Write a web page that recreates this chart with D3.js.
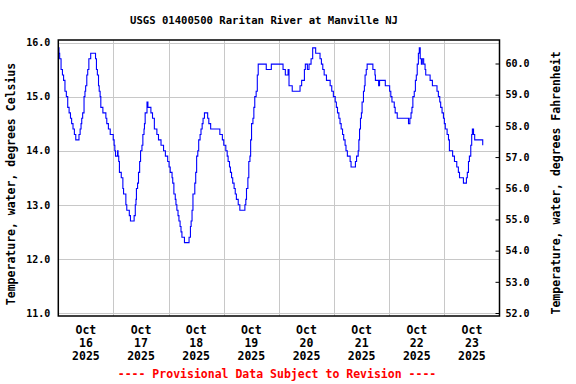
<!DOCTYPE html>
<html lang="en">
<head>
<meta charset="UTF-8">
<title>USGS 01400500 Raritan River at Manville NJ</title>
<script src="https://d3js.org/d3.v7.min.js"></script>
<style>
    body { margin: 0; background: #fff; }
    svg text { font-family: "DejaVu Sans Mono", "Liberation Mono", monospace; font-weight: bold; fill: #000; }
</style>
</head>
<body>
<div id="chart"></div>
<script>
// hours since 2025-10-16 00:00, water temperature (deg C)
const hours = [0.0, 0.3, 0.6, 1.2, 1.8, 2.3, 2.9, 3.5, 4.1, 4.7, 5.3, 5.8, 6.4, 7.0, 7.6, 9.0, 9.5, 9.9, 10.2, 10.6,
    11.2, 11.6, 11.9, 12.4, 12.8, 13.3, 14.1, 16.2, 16.6, 17.0, 17.5, 17.8, 18.2, 18.5, 19.4, 20.7, 21.1, 21.8, 22.6, 23.9,
    24.3, 24.6, 24.9, 25.8, 26.0, 26.3, 26.6, 27.4, 28.1, 28.4, 29.4, 29.8, 30.9, 31.4, 33.0, 33.5, 33.8, 34.0, 34.5, 34.9,
    35.4, 35.8, 36.4, 36.8, 37.3, 37.5, 37.8, 38.6, 39.0, 40.3, 41.0, 41.8, 42.9, 43.6, 44.7, 45.8, 46.6, 47.6, 48.2, 48.7,
    49.5, 49.8, 50.3, 50.9, 51.2, 51.6, 52.1, 52.5, 53.0, 53.4, 53.8, 54.9, 56.9, 57.5, 57.8, 58.2, 58.6, 59.4, 59.8, 60.2,
    60.7, 61.1, 61.7, 62.1, 62.6, 63.0, 63.6, 65.0, 65.5, 66.3, 70.3, 71.4, 72.0, 72.9, 73.5, 73.9, 74.5, 74.9, 75.4, 75.9,
    76.5, 77.0, 77.5, 78.3, 79.0, 81.2, 81.6, 81.9, 82.5, 82.9, 83.4, 83.7, 84.1, 84.7, 85.1, 85.5, 86.1, 86.6, 87.0, 90.5,
    92.7, 97.8, 98.8, 100.0, 100.4, 101.8, 105.2, 105.9, 107.1, 107.5, 108.4, 109.1, 110.0, 110.7, 112.0, 113.9, 114.5, 115.1, 115.7, 116.7,
    118.3, 119.0, 119.7, 120.5, 121.0, 121.5, 122.1, 122.6, 123.1, 123.7, 124.2, 124.8, 125.2, 125.8, 127.0, 127.4, 129.3, 129.8, 130.5, 130.8,
    131.1, 131.5, 131.9, 132.2, 132.8, 133.2, 133.5, 134.0, 134.4, 136.9, 137.8, 138.0, 139.4, 139.8, 142.3, 144.2, 144.7, 145.2, 146.2, 146.6,
    147.5, 152.4, 153.0, 153.5, 153.9, 154.3, 154.9, 155.4, 155.8, 156.2, 156.7, 157.1, 157.5, 158.0, 158.4, 159.0, 159.6, 159.9, 161.8, 162.8,
    164.8, 165.4, 166.0, 166.4, 167.0, 167.6, 168.0, 168.4, 169.2, 169.8, 170.2, 171.6, 172.4, 173.4, 174.1, 174.6, 176.3, 177.6, 178.0, 178.5,
    178.9, 179.5, 179.9, 180.2, 180.7, 181.2, 184.7];
const tempC = [15.9, 15.8, 15.7, 15.5, 15.4, 15.3, 15.1, 15.0, 14.8, 14.7, 14.6, 14.5, 14.4, 14.3, 14.2, 14.3, 14.4, 14.5, 14.6, 14.7,
    15.0, 15.1, 15.2, 15.4, 15.5, 15.7, 15.8, 15.7, 15.5, 15.4, 15.2, 15.1, 15.0, 14.8, 14.7, 14.6, 14.5, 14.4, 14.3, 14.2,
    14.1, 14.0, 13.9, 14.0, 13.9, 13.8, 13.6, 13.5, 13.3, 13.2, 13.0, 12.9, 12.8, 12.7, 12.8, 13.0, 13.1, 13.3, 13.4, 13.6,
    13.8, 14.0, 14.1, 14.3, 14.4, 14.5, 14.7, 14.9, 14.8, 14.7, 14.6, 14.4, 14.3, 14.2, 14.1, 14.0, 13.9, 13.8, 13.7, 13.6,
    13.5, 13.4, 13.2, 13.1, 13.0, 12.9, 12.8, 12.7, 12.6, 12.5, 12.4, 12.3, 12.4, 12.6, 12.7, 12.9, 13.2, 13.4, 13.6, 13.9,
    14.0, 14.2, 14.3, 14.4, 14.5, 14.6, 14.7, 14.6, 14.5, 14.4, 14.3, 14.2, 14.1, 14.0, 13.9, 13.8, 13.7, 13.6, 13.5, 13.4,
    13.3, 13.2, 13.1, 13.0, 12.9, 13.0, 13.1, 13.3, 13.5, 13.8, 13.9, 14.2, 14.5, 14.6, 14.8, 15.0, 15.1, 15.4, 15.6, 15.5,
    15.6, 15.5, 15.4, 15.5, 15.2, 15.1, 15.2, 15.3, 15.5, 15.6, 15.5, 15.6, 15.7, 15.9, 15.8, 15.7, 15.6, 15.5, 15.4, 15.3,
    15.2, 15.1, 15.0, 14.9, 14.8, 14.7, 14.6, 14.5, 14.4, 14.3, 14.2, 14.1, 14.0, 13.9, 13.8, 13.7, 13.8, 13.9, 14.0, 14.2,
    14.4, 14.6, 14.7, 14.9, 15.1, 15.2, 15.4, 15.5, 15.6, 15.5, 15.4, 15.3, 15.2, 15.3, 15.2, 15.1, 15.0, 14.9, 14.8, 14.7,
    14.6, 14.5, 14.6, 14.7, 14.8, 15.0, 15.1, 15.3, 15.4, 15.6, 15.8, 15.9, 15.7, 15.6, 15.7, 15.6, 15.5, 15.4, 15.3, 15.2,
    15.1, 15.0, 14.9, 14.8, 14.7, 14.6, 14.5, 14.4, 14.3, 14.2, 14.0, 13.9, 13.8, 13.7, 13.6, 13.5, 13.4, 13.5, 13.6, 13.8,
    13.9, 14.1, 14.3, 14.4, 14.3, 14.2, 14.1];

const celsiusTicks = [11, 12, 13, 14, 15, 16];
const fahrenheitTicks = [52, 53, 54, 55, 56, 57, 58, 59, 60];
const dayLabels = [["Oct", "16", "2025"], ["Oct", "17", "2025"], ["Oct", "18", "2025"], ["Oct", "19", "2025"],
    ["Oct", "20", "2025"], ["Oct", "21", "2025"], ["Oct", "22", "2025"], ["Oct", "23", "2025"]];

const width = 576, height = 384;
const plotLeft = 58.3, plotRight = 499.5, plotTop = 40, plotBottom = 316;
const t0 = Date.UTC(2025, 9, 16);
const toDate = h => new Date(t0 + h * 3600e3);

const x = d3.scaleUtc()
    .domain([toDate(0), toDate(192)])
    .range([plotLeft, plotRight]);
const y = d3.scaleLinear().domain([11, 16]).range([313, 42.5]);
const yF = d3.scaleLinear().domain([52, 60]).range([313, 63.5]);

const svg = d3.select("#chart").append("svg")
    .attr("width", width)
    .attr("height", height)
    .style("font-size", "11.5px");

// gridlines
svg.append("g")
    .selectAll("line")
    .data(celsiusTicks)
    .join("line")
    .attr("x1", plotLeft).attr("x2", plotRight)
    .attr("y1", d => Math.round(y(d)) + 0.5).attr("y2", d => Math.round(y(d)) + 0.5)
    .attr("stroke", "#c8c8c8");

const midnights = d3.range(1, 8).map(i => toDate(i * 24));
svg.append("g")
    .selectAll("line")
    .data(midnights)
    .join("line")
    .attr("x1", d => Math.round(x(d)) + 0.5).attr("x2", d => Math.round(x(d)) + 0.5)
    .attr("y1", plotTop).attr("y2", plotBottom)
    .attr("stroke", "#c8c8c8");

// data line
const data = hours.map((h, i) => ({ date: toDate(h), value: tempC[i] }));
const line = d3.line()
    .curve(d3.curveStepAfter)
    .x(d => x(d.date))
    .y(d => y(d.value));

svg.append("path")
    .datum(data)
    .attr("fill", "none")
    .attr("stroke", "#0000ff")
    .attr("stroke-width", 1.1)
    .attr("d", line);

// frame
svg.append("rect")
    .attr("x", plotLeft).attr("y", plotTop)
    .attr("width", plotRight - plotLeft).attr("height", plotBottom - plotTop)
    .attr("fill", "none")
    .attr("stroke", "#000")
    .attr("stroke-width", 1.5);

// left axis
const yAxis = d3.axisLeft(y)
    .tickValues(celsiusTicks)
    .tickFormat(d3.format(".1f"))
    .tickSize(0)
    .tickPadding(8);
svg.append("g")
    .attr("transform", `translate(${plotLeft},0)`)
    .call(yAxis)
    .call(g => g.select(".domain").remove())
    .call(g => g.selectAll("text").attr("font-family", null).attr("font-size", null));

// right axis, inward ticks
const yAxisF = d3.axisRight(yF)
    .tickValues(fahrenheitTicks)
    .tickFormat(d3.format(".1f"))
    .tickSizeInner(-4)
    .tickSizeOuter(0)
    .tickPadding(6);
svg.append("g")
    .attr("transform", `translate(${plotRight},0)`)
    .call(yAxisF)
    .call(g => g.select(".domain").remove())
    .call(g => g.selectAll("text").attr("font-family", null).attr("font-size", null));

// day labels at noon
const dayText = svg.append("g")
    .attr("text-anchor", "middle")
    .selectAll("text")
    .data(dayLabels)
    .join("text")
    .attr("transform", (d, i) => `translate(${x(toDate(i * 24 + 12))},334)`);
dayText.selectAll("tspan")
    .data(d => d)
    .join("tspan")
    .attr("x", 0)
    .attr("y", (d, i) => i * 13)
    .text(d => d);

// titles
svg.append("text")
    .attr("x", 264).attr("y", 24)
    .attr("text-anchor", "middle")
    .style("font-size", "10.6px")
    .text("USGS 01400500 Raritan River at Manville NJ");

svg.append("text")
    .attr("transform", "translate(15,184) rotate(-90)")
    .attr("text-anchor", "middle")
    .text("Temperature, water, degrees Celsius");

svg.append("text")
    .attr("transform", "translate(560,183) rotate(-90)")
    .attr("text-anchor", "middle")
    .text("Temperature, water, degrees Fahrenheit");

svg.append("text")
    .attr("x", 277).attr("y", 378)
    .attr("text-anchor", "middle")
    .style("fill", "#ff0000")
    .text("---- Provisional Data Subject to Revision ----");
</script>
</body>
</html>
